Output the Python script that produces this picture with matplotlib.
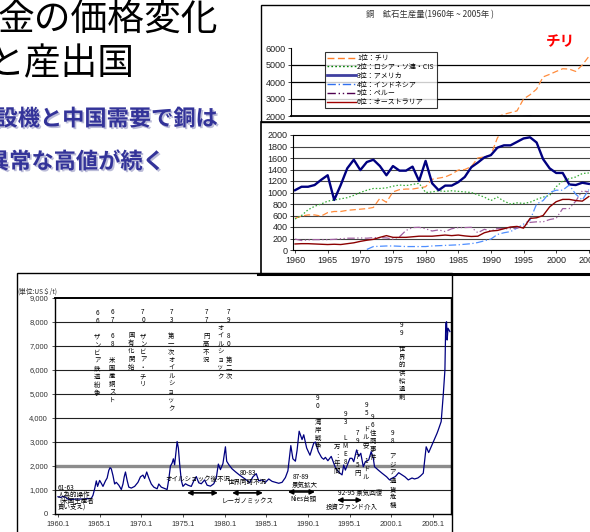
import matplotlib
matplotlib.use('Agg')
import matplotlib.pyplot as plt
import matplotlib.patheffects as pe
from matplotlib.lines import Line2D
from matplotlib.patches import Rectangle
import numpy as np

plt.rcParams['font.family'] = ['Noto Sans CJK JP', 'DejaVu Sans']
NUM_FONT = ['Liberation Sans', 'Noto Sans CJK JP']

# ---------------- data: copper mine production (kt), 1960-2005 ----------------
prod_years = list(range(1960, 2006))
chile = [550, 590, 610, 610, 590, 650, 670, 670, 690, 700, 710, 720, 740, 900, 830,
         1010, 1050, 1060, 1060, 1080, 1100, 1230, 1250, 1270, 1320, 1390, 1400, 1450,
         1600, 1620, 1650, 1950, 2100, 2200, 2300, 3000, 3250, 3580, 4300, 4450, 4620,
         4780, 4760, 4620, 5000, 5500]
russia = [540, 600, 700, 760, 800, 850, 870, 890, 910, 950, 1000, 1040, 1070, 1070, 1080,
          1110, 1130, 1120, 1140, 1160, 1000, 1010, 1030, 1020, 1030, 1020, 1010, 1000,
          960, 920, 860, 920, 850, 800, 820, 810, 830, 880, 920, 950, 1100, 1200, 1240,
          1270, 1330, 1340]
usa = [1040, 1100, 1100, 1130, 1220, 1300, 870, 1130, 1420, 1570, 1390, 1530, 1570, 1460,
       1300, 1460, 1380, 1380, 1450, 1200, 1550, 1160, 1040, 1120, 1120, 1180, 1270, 1440,
       1520, 1610, 1650, 1780, 1820, 1820, 1880, 1940, 1960, 1870, 1580, 1420, 1340, 1340,
       1140, 1130, 1170, 1150]
indonesia = [np.nan] * 11 + [10, 60, 65, 70, 70, 65, 60, 60, 60, 60, 70, 75, 80, 85, 90,
                             100, 110, 130, 160, 190, 270, 300, 320, 380, 450, 520, 800,
                             860, 1000, 1040, 1040, 1130, 970, 870, 1050]
peru = [190, 165, 175, 180, 180, 180, 185, 195, 205, 205, 210, 205, 215, 215, 210, 190, 230,
        340, 390, 395, 370, 330, 350, 320, 370, 390, 390, 395, 300, 360, 330, 375, 370, 370,
        380, 410, 480, 490, 490, 530, 550, 720, 720, 850, 1030, 1010]
australia = [105, 110, 110, 105, 100, 95, 100, 95, 110, 125, 150, 170, 185, 220, 250, 220,
             220, 220, 230, 240, 240, 240, 250, 260, 250, 260, 245, 235, 240, 300, 330, 340,
             370, 400, 410, 380, 550, 560, 600, 750, 840, 880, 880, 860, 850, 930]
legend_labels = ['1位：チリ', '2位：ロシア・ソ連・CIS', '3位：アメリカ',
                 '4位：インドネシア', '5位：ペルー', '6位：オーストラリア']

# ---------------- data: copper price (US$/t) ----------------
price_time = [1960.0, 1960.3, 1960.6, 1960.9, 1961.2, 1961.5, 1962.0, 1962.5, 1963.0, 1963.5,
              1964.0, 1964.2, 1964.4, 1964.6, 1964.75, 1965.0, 1965.2, 1965.4, 1965.7, 1965.9,
              1966.1, 1966.25, 1966.4, 1966.6, 1966.8, 1967.0, 1967.3, 1967.6, 1967.8, 1967.95,
              1968.1, 1968.3, 1968.5, 1968.8, 1969.2, 1969.6, 1969.9, 1970.2, 1970.4, 1970.65,
              1970.9, 1971.2, 1971.5, 1971.9, 1972.1, 1972.4, 1972.8, 1973.1, 1973.3, 1973.5,
              1973.7, 1973.85, 1974.0, 1974.3, 1974.45, 1974.6, 1974.8, 1975.0, 1975.3, 1975.6,
              1976.0, 1976.3, 1976.6, 1976.9, 1977.2, 1977.6, 1977.9, 1978.3, 1978.7, 1979.0,
              1979.25, 1979.5, 1979.8, 1980.1, 1980.25, 1980.5, 1980.9, 1981.3, 1981.8, 1982.3,
              1982.7, 1983.0, 1983.4, 1983.8, 1984.1, 1984.5, 1984.9, 1985.3, 1985.7, 1986.1,
              1986.5, 1986.9, 1987.3, 1987.6, 1987.8, 1987.95, 1988.2, 1988.5, 1988.7, 1988.95,
              1989.3, 1989.5, 1989.85, 1990.25, 1990.7, 1990.9, 1991.25, 1991.65, 1991.9, 1992.1,
              1992.4, 1992.8, 1993.25, 1993.5, 1993.85, 1994.1, 1994.3, 1994.5, 1995.05, 1995.3,
              1995.5, 1995.85, 1996.1, 1996.35, 1996.65, 1996.9, 1997.3, 1997.6, 1997.85, 1998.0,
              1998.45, 1998.9, 1999.45, 1999.8, 2000.1, 2000.5, 2000.9, 2001.3, 2001.65, 2002.05,
              2002.5, 2002.8, 2003.2, 2003.5, 2003.85, 2004.2, 2004.5, 2004.8, 2005.05, 2005.5,
              2005.65, 2006.0, 2006.25, 2006.45, 2006.55, 2006.65, 2006.72, 2006.82, 2007.05]
price_value = [720, 690, 730, 700, 620, 600, 620, 625, 620, 640,
               650, 780, 1050, 1380, 1150, 1400, 1280, 1150, 1380, 1500,
               1820, 1930, 1880, 1600, 1250, 1320, 1200, 1020, 1250, 1550,
               1750, 1400, 1120, 1080, 1150, 1320, 1550, 1620, 1480, 1750,
               1500, 1250, 1120, 1050, 1250, 1120, 1060, 1020, 1450, 2000,
               2120, 2300, 2050, 3020, 2750, 2100, 1400, 1150, 1260, 1200,
               1150, 1380, 1560, 1300, 1260, 1420, 1200, 1160, 1260, 1500,
               2080, 1850, 2100, 2800, 2200, 2060, 1880, 1760, 1620, 1500,
               1400, 1300, 1550, 1680, 1380, 1420, 1320, 1460, 1360, 1320,
               1280, 1320, 1520, 1800, 2400, 2850, 2300, 2200, 2650, 3450,
               3100, 3300, 2750, 2450, 2950, 3000, 2600, 2350, 2280, 2360,
               2220, 2400, 1980, 1830, 1700, 1630, 2040, 1830, 2320, 2320,
               2180, 2670, 2400, 2530, 1970, 2180, 2250, 2600, 2320, 1970,
               1830, 1700, 1550, 1420, 1490, 1560, 1720, 1630, 1550, 1420,
               1500, 1460, 1500, 1580, 1700, 2800, 2560, 2800, 3000, 3360,
               3500, 3850, 4960, 6000, 7950, 8010, 7250, 7740, 7600]
price_ticks = [1960, 1965, 1970, 1975, 1980, 1985, 1990, 1995, 2000, 2005]
price_tick_labels = ['1960.1', '1965.1', '1970.1', '1975.1', '1980.1', '1985.1',
                     '1990.1', '1995.1', '2000.1', '2005.1']

# vertical event notes: (year, price level at top, text)
events = [
    (1964.7, 8560, '66 ザンビア鉄道紛争'),
    (1966.5, 8580, '67 68 米国産銅スト'),
    (1970.2, 8580, '70 ザンビア・チリ'),
    (1968.8, 7620, '国有化開始'),
    (1973.6, 8580, '73 第一次オイルショック'),
    (1977.8, 8580, '77 円高不況'),
    (1980.5, 8580, '79 80 第二次'),
    (1979.5, 7920, 'オイルショック'),
    (1991.2, 5000, '90 湾岸戦争'),
    (1994.5, 4330, '93 LME8'),
    (1993.5, 2940, '万：年間'),
    (1997.0, 4710, '95 ドル安 1ドル'),
    (1996.0, 3540, '79.75円'),
    (1997.8, 4210, '96住商事件'),
    (2000.2, 3540, '98 アジア通貨危機'),
    (2001.3, 8040, '99 世界的供給過剰'),
]
# horizontal notes: (year, level, text, ha)
notes = [
    (1960.0, 1080, '61-63', 'left'),
    (1960.0, 790, '人為的操作', 'left'),
    (1960.2, 500, '(米国生産者', 'left'),
    (1960.0, 250, '買い支え)', 'left'),
    (1976.8, 1460, 'オイルショック後不況', 'center'),
    (1982.8, 1710, '80-83', 'center'),
    (1982.7, 1330, '世界同時不況', 'center'),
    (1982.8, 500, 'レーガノミックス', 'center'),
    (1989.2, 1540, '87-89', 'center'),
    (1989.6, 1210, '景気拡大', 'center'),
    (1989.5, 625, 'Nies台頭', 'center'),
    (1996.3, 875, '92-95 景気回復', 'center'),
    (1995.3, 290, '投資ファンド介入', 'center'),
]
# double-headed arrows: (start year, end year, level)
arrows = [(1975.5, 1979.2, 880), (1980.9, 1984.6, 880),
          (1987.6, 1990.85, 920), (1993.5, 1996.5, 580)]

W, H = 590, 532


def box(l, t, r, b):
    return [l / W, 1 - b / H, (r - l) / W, (b - t) / H]


fig = plt.figure(figsize=(W / 100, H / 100), dpi=100)
fig.patch.set_facecolor('white')

# ---------------- slide text ----------------
fig.text(218 / W, 1 - 20 / H, '金の価格変化', ha='right', va='center', fontsize=26.5, color='black')
fig.text(135 / W, 1 - 64 / H, 'と産出国', ha='right', va='center', fontsize=26.5, color='black')
shadow = [pe.SimplePatchShadow(offset=(1.2, -1.2), shadow_rgbFace='#9fa0c8', alpha=0.7), pe.Normal()]
fig.text(218 / W, 1 - 119 / H, '設機と中国需要で銅は', ha='right', va='center', fontsize=16,
         weight='bold', color='#333399', path_effects=shadow)
fig.text(165 / W, 1 - 162 / H, '異常な高値が続く', ha='right', va='center', fontsize=16,
         weight='bold', color='#333399', path_effects=shadow)

# ---------------- production chart (top right) ----------------
styles = [
    dict(color='#FF8C3C', lw=0.9, dashes=(5, 2.5)),
    dict(color='#33AA33', lw=0.9, dashes=(1.2, 1.6)),
    dict(color='#000080', lw=1.7),
    dict(color='#4F8FFF', lw=0.9, dashes=(6, 2, 1, 2)),
    dict(color='#A060A0', lw=0.9, dashes=(6, 2, 1, 2, 1, 2)),
    dict(color='#8B0000', lw=1.0),
]
series = [chile, russia, usa, indonesia, peru, australia]

ax_up = fig.add_axes(box(291, 48, 596, 116))
ax_lo = fig.add_axes(box(293, 135, 596, 250))
for ax in (ax_up, ax_lo):
    for s, st in zip(series, styles):
        ax.plot(prod_years, s, **st)
ax_up.set_xlim(1959.39, 2006.1)
ax_lo.set_xlim(1959.69, 2006.1)
ax_up.set_ylim(2000, 6000)
ax_lo.set_ylim(0, 2000)

ax_up.set_yticks([2000, 3000, 4000, 5000, 6000])
for v in [3000, 4000, 5000]:
    ax_up.axhline(v, color='black', lw=0.9, zorder=0)
ax_up.set_xticks([])
for side in ['top', 'right']:
    ax_up.spines[side].set_visible(False)
ax_up.spines['bottom'].set_linewidth(1.3)

ax_lo.set_yticks(range(0, 2001, 200))
for v in range(200, 2000, 200):
    ax_lo.axhline(v, color='#444444', lw=0.8, zorder=0)
ax_lo.set_xticks(range(1960, 2006, 5))
ax_lo.spines['right'].set_visible(False)
for ax in (ax_up, ax_lo):
    ax.tick_params(labelsize=6.5, length=2, width=0.6, pad=2, colors='#222222')
    for lab in ax.get_xticklabels() + ax.get_yticklabels():
        lab.set_family(NUM_FONT)
    ax.set_facecolor('none')

fig.text(430 / W, 1 - 15 / H, '銅　鉱石生産量(1960年 ~ 2005年 )', ha='center', va='center',
         fontsize=6, color='#333333')
fig.text(560 / W, 1 - 41 / H, 'チリ', ha='center', va='center', fontsize=10.5,
         weight='bold', color='#FF0000')

leg_styles = [
    dict(color='#FF7F27', lw=1.0, dashes=(5, 2.5)),
    dict(color='#008000', lw=1.0, dashes=(1.2, 1.6)),
    dict(color='#4040A0', lw=2.0),
    dict(color='#3070F0', lw=1.0, dashes=(6, 2, 1, 2)),
    dict(color='#500050', lw=1.0, dashes=(6, 2, 1, 2, 1, 2)),
    dict(color='#A00000', lw=1.0),
]
handles = [Line2D([], [], **st) for st in leg_styles]
leg = fig.legend(handles, legend_labels, loc='upper left', bbox_to_anchor=(325 / W, 1 - 52 / H),
                 fontsize=5, frameon=True, fancybox=False, edgecolor='black',
                 handlelength=4.2, handletextpad=0.1, labelspacing=0.12, borderpad=0.3,
                 borderaxespad=0)
leg.get_frame().set_linewidth(0.8)

# panel frames
fig.add_artist(Rectangle((261 / W, 1 - 122 / H), 340 / W, 117 / H, transform=fig.transFigure,
                         fill=False, edgecolor='black', lw=1.0))
fig.add_artist(Rectangle((261 / W, 1 - 274 / H), 340 / W, 152 / H, transform=fig.transFigure,
                         fill=False, edgecolor='black', lw=1.2))
fig.add_artist(Line2D([258 / W, 1.02], [1 - 274 / H, 1 - 274 / H], transform=fig.transFigure,
                      color='black', lw=2.2))
fig.add_artist(Rectangle((17 / W, -0.05), 435 / W, 0.05 + 1 - 273 / H, transform=fig.transFigure,
                         fill=False, edgecolor='black', lw=1.0))

# ---------------- price chart (bottom) ----------------
ax = fig.add_axes(box(55, 298, 451, 514))
ax.plot(price_time, price_value, color='#000080', lw=0.9, zorder=3)
ax.set_xlim(1959.64, 2007.18)
ax.set_ylim(0, 9000)
for v in range(1000, 9000, 1000):
    if v == 2000:
        ax.axhline(v, color='#8c8c8c', lw=2.4, zorder=1)
    else:
        ax.axhline(v, color='#222222', lw=0.8, zorder=1)
ax.set_yticks(range(0, 9001, 1000))
ax.set_yticklabels(['{:,}'.format(v) for v in range(0, 9001, 1000)])
ax.set_xticks(price_ticks)
ax.set_xticklabels(price_tick_labels)
ax.tick_params(labelsize=5.5, length=2, width=0.6, pad=3, colors='#333333')
for lab in ax.get_xticklabels() + ax.get_yticklabels():
    lab.set_family(NUM_FONT)
for sp in ax.spines.values():
    sp.set_linewidth(1.0)
ax.spines['top'].set_linewidth(1.4)

fig.text(17 / W, 1 - 292 / H, '(単位:US＄/t)', ha='left', va='center', fontsize=4.8, color='#333333')

for yr, lvl, txt in events:
    ax.text(yr, lvl, '\n'.join(txt), ha='center', va='top', fontsize=4.6,
            linespacing=1.0, color='black', zorder=4)
for yr, lvl, txt, ha in notes:
    ax.text(yr, lvl, txt, ha=ha, va='center', fontsize=4.7, color='black', zorder=4)
for x0, x1, lvl in arrows:
    ax.annotate('', xy=(x1, lvl), xytext=(x0, lvl),
                arrowprops=dict(arrowstyle='<|-|>', color='black', lw=1.2,
                                mutation_scale=7, shrinkA=0, shrinkB=0), zorder=4)

fig.savefig('out.png', dpi=100, facecolor='white')
